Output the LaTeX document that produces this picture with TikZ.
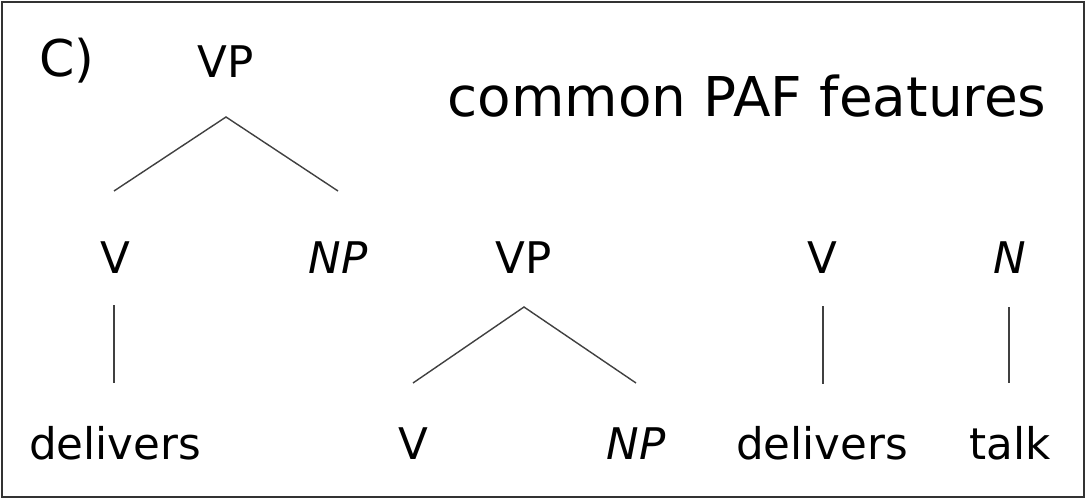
\documentclass[tikz,border=0pt]{standalone}
\usepackage{fontspec}
\setmainfont{DejaVu Sans}
\usetikzlibrary{positioning}

\begin{document}
\begin{tikzpicture}[x=0.025cm, y=-0.025cm,
    cat/.style={anchor=base, inner sep=0pt, font=\fontsize{31}{31}\selectfont},
    catit/.style={cat, font=\fontsize{31}{31}\selectfont\itshape},
    title/.style={anchor=base, inner sep=0pt, font=\fontsize{39}{39}\selectfont},
    branch/.style={line width=1pt, black!75},
    frame/.style={line width=1.3pt, black!80}]

\useasboundingbox (0,0) rectangle (1086,499);
\draw[frame] (2,2) rectangle (1084,497);

% Headings
\node[title, font=\fontsize{36}{36}\selectfont] (panel) at (67,77) {C)};
\node[title] (heading) at (747,117) {common PAF features};

% Left tree
\node[cat] (vp1) at (226,78) {VP};
\node[cat] (v1) at (115,273) {V};
\node[catit] (np1) at (338,273) {NP};
\node[cat] (w1) at (115,459) {delivers};

% Middle tree
\node[cat] (vp2) at (524,273) {VP};
\node[cat] (v2) at (413,459) {V};
\node[catit] (np2) at (636,459) {NP};

% Right words
\node[cat] (v3) at (822,273) {V};
\node[catit] (n3) at (1010,273) {N};
\node[cat] (w3) at (822,459) {delivers};
\node[cat] (w4) at (1010,459) {talk};

% Branch points
\coordinate (vp1-b) at (226,117);
\coordinate (v1-t) at (114,191);
\coordinate (np1-t) at (338,191);
\coordinate (v1-b) at (114,305);
\coordinate (w1-t) at (114,383);
\coordinate (vp2-b) at (524,307);
\coordinate (v2-t) at (413,383);
\coordinate (np2-t) at (636,383);
\coordinate (v3-b) at (823,306);
\coordinate (w3-t) at (823,384);
\coordinate (n3-b) at (1009,307);
\coordinate (w4-t) at (1009,383);

% Branches
\draw[branch] (v1-t) -- (vp1-b) -- (np1-t);
\draw[branch] (v1-b) -- (w1-t);
\draw[branch] (v2-t) -- (vp2-b) -- (np2-t);
\draw[branch] (v3-b) -- (w3-t);
\draw[branch] (n3-b) -- (w4-t);
\end{tikzpicture}
\end{document}
